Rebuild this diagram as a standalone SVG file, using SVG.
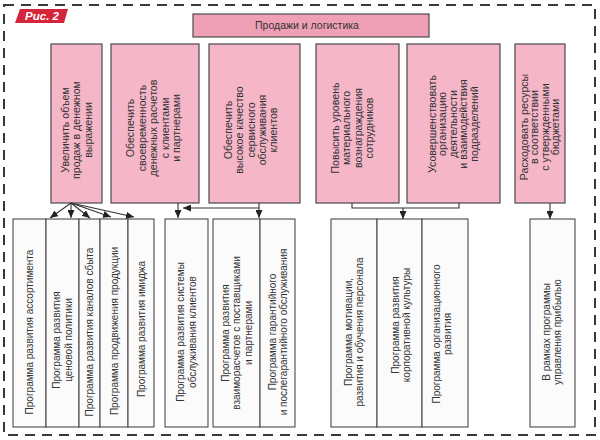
<svg xmlns="http://www.w3.org/2000/svg" width="600" height="440" viewBox="0 0 600 440">
<defs>
<marker id="ah" markerWidth="8" markerHeight="7" refX="8" refY="3.5" orient="auto" markerUnits="userSpaceOnUse">
<path d="M0,0 L8,3.5 L0,7 z" fill="#222"/>
</marker>
<style>
.frame{fill:none;stroke:#3a3a3a;stroke-width:2;stroke-dasharray:10 7}
.top{fill:#f0a0b6;stroke:#4a4a4a;stroke-width:1.2}
.goal{fill:#f5b6c7;stroke:#4a4a4a;stroke-width:1.2}
.prog{fill:#fbfbfb;stroke:#4a4a4a;stroke-width:1.1}
text{font-family:"Liberation Sans",Arial,sans-serif;font-size:10px;fill:#333;text-anchor:middle}
.gt{font-size:10.6px}
.conn line,.conn path{stroke:#333;stroke-width:1.1;fill:none}
</style>
</defs>
<rect width="600" height="440" fill="#ffffff"/>
<rect class="frame" x="4" y="5" width="591" height="430"/>
<g id="fig-label">
<polygon points="20,9 68,9 64,23 15,23" fill="#d5253a"/>
<text x="42" y="20" style="fill:#fff;font-weight:bold;font-style:italic;font-size:11.5px">Рис. 2</text>
</g>
<g id="top">
<rect class="top" x="193" y="14" width="236" height="23"/>
<text x="307" y="29" style="font-size:10.5px">Продажи и логистика</text>
</g>
<g id="goal1">
<rect class="goal" x="51" y="44" width="51" height="159"/>
<text class="gt" transform="translate(76.5,130) rotate(-90)"><tspan x="0" y="-8">Увеличить объем</tspan><tspan x="0" y="3.5">продаж в денежном</tspan><tspan x="0" y="15">выражении</tspan></text>
</g>
<g id="goal2">
<rect class="goal" x="111" y="44" width="88" height="159"/>
<text class="gt" transform="translate(153.5,128) rotate(-90)"><tspan x="0" y="-19.5">Обеспечить</tspan><tspan x="0" y="-8">своевременность</tspan><tspan x="0" y="3.5">денежных  расчетов</tspan><tspan x="0" y="15">с клиентами</tspan><tspan x="0" y="26.5">и партнерами</tspan></text>
</g>
<g id="goal3">
<rect class="goal" x="209" y="44" width="91" height="159"/>
<text class="gt" transform="translate(251,130) rotate(-90)"><tspan x="0" y="-19">Обеспечить</tspan><tspan x="0" y="-7.7">высокое качество</tspan><tspan x="0" y="3.5">сервисного</tspan><tspan x="0" y="14.7">обслуживания</tspan><tspan x="0" y="26">клиентов</tspan></text>
</g>
<g id="goal4">
<rect class="goal" x="316" y="44" width="83" height="159"/>
<text class="gt" transform="translate(352.5,128) rotate(-90)"><tspan x="0" y="-13.7">Повысить уровень</tspan><tspan x="0" y="-2.2">материального</tspan><tspan x="0" y="9.2">вознаграждения</tspan><tspan x="0" y="20.7">сотрудников</tspan></text>
</g>
<g id="goal5">
<rect class="goal" x="407" y="44" width="93" height="159"/>
<text class="gt" transform="translate(453,124) rotate(-90)"><tspan x="0" y="-17.5">Усовершенствовать</tspan><tspan x="0" y="-7">организацию</tspan><tspan x="0" y="3.5">деятельности</tspan><tspan x="0" y="14">и взаимодействия</tspan><tspan x="0" y="24.5">подразделений</tspan></text>
</g>
<g id="goal6">
<rect class="goal" x="515" y="44" width="50" height="159"/>
<text class="gt" transform="translate(540,127) rotate(-90)"><tspan x="0" y="-12.2">Расходовать ресурсы</tspan><tspan x="0" y="-1.7">в соответствии</tspan><tspan x="0" y="8.8">с утвержденными</tspan><tspan x="0" y="19.3">бюджетами</tspan></text>
</g>
<g id="prog-assortment">
<rect class="prog" x="13" y="219" width="33" height="208"/>
<text transform="translate(29.5,332) rotate(-90)"><tspan x="0" y="3.5">Программа развития  ассортимента</tspan></text>
</g>
<g id="prog-price">
<rect class="prog" x="46" y="219" width="33" height="208"/>
<text transform="translate(62.5,340) rotate(-90)"><tspan x="0" y="-2.5">Программа развития</tspan><tspan x="0" y="9">ценовой политики</tspan></text>
</g>
<g id="prog-channels">
<rect class="prog" x="79" y="219" width="21" height="208"/>
<text transform="translate(89.5,332) rotate(-90)"><tspan x="0" y="3.5">Программа развития каналов  сбыта</tspan></text>
</g>
<g id="prog-promo">
<rect class="prog" x="100" y="219" width="28" height="208"/>
<text transform="translate(114,331) rotate(-90)"><tspan x="0" y="3.5">Программа продвижения продукции</tspan></text>
</g>
<g id="prog-image">
<rect class="prog" x="128" y="219" width="26" height="208"/>
<text transform="translate(141,329) rotate(-90)"><tspan x="0" y="3.5">Программа  развития имиджа</tspan></text>
</g>
<g id="prog-service">
<rect class="prog" x="165" y="219" width="43" height="208"/>
<text transform="translate(186.5,332) rotate(-90)"><tspan x="0" y="-2.2">Программа развития системы</tspan><tspan x="0" y="9.3">обслуживания  клиентов</tspan></text>
</g>
<g id="prog-settlements">
<rect class="prog" x="213" y="219" width="47" height="208"/>
<text transform="translate(236.5,333) rotate(-90)"><tspan x="0" y="-8">Программа развития</tspan><tspan x="0" y="3.5">взаиморасчетов с поставщиками</tspan><tspan x="0" y="15">и партнерами</tspan></text>
</g>
<g id="prog-warranty">
<rect class="prog" x="260" y="219" width="35" height="208"/>
<text transform="translate(278,332) rotate(-90)"><tspan x="0" y="-2.2">Программа гарантийного</tspan><tspan x="0" y="9.3">и послегарантийного обслуживания</tspan></text>
</g>
<g id="prog-motivation">
<rect class="prog" x="331" y="219" width="46" height="208"/>
<text transform="translate(354,332) rotate(-90)"><tspan x="0" y="-2.2">Программа мотивации,</tspan><tspan x="0" y="9.3">развития и обучения персонала</tspan></text>
</g>
<g id="prog-culture">
<rect class="prog" x="377" y="219" width="45" height="208"/>
<text transform="translate(401,325) rotate(-90)"><tspan x="0" y="-2.2">Программа развития</tspan><tspan x="0" y="9.3">корпоративной культуры</tspan></text>
</g>
<g id="prog-org">
<rect class="prog" x="422" y="219" width="46" height="208"/>
<text transform="translate(442,334) rotate(-90)"><tspan x="0" y="-2.2">Программа организационного</tspan><tspan x="0" y="9.3">развития</tspan></text>
</g>
<g id="prog-profit">
<rect class="prog" x="530" y="219" width="45" height="208"/>
<text transform="translate(552,332) rotate(-90)"><tspan x="0" y="-2.2">В рамках программы</tspan><tspan x="0" y="9.3">управления прибылью</tspan></text>
</g>
<g id="connectors" class="conn">
<line x1="71" y1="203" x2="50" y2="218" marker-end="url(#ah)"/>
<line x1="71" y1="203" x2="71" y2="218" marker-end="url(#ah)"/>
<line x1="71" y1="203" x2="90" y2="218" marker-end="url(#ah)"/>
<line x1="71" y1="203" x2="111" y2="217" marker-end="url(#ah)"/>
<line x1="71" y1="203" x2="134" y2="217" marker-end="url(#ah)"/>
<line x1="178" y1="203" x2="178" y2="218" marker-end="url(#ah)"/>
<line x1="259" y1="203" x2="259" y2="218" marker-end="url(#ah)"/>
<line x1="259" y1="208" x2="183" y2="208" marker-end="url(#ah)"/>
<path d="M352,203 V208 H459 V203"/>
<line x1="403" y1="208" x2="403" y2="219" marker-end="url(#ah)"/>
<line x1="550" y1="203" x2="550" y2="219" marker-end="url(#ah)"/>
</g>
</svg>
